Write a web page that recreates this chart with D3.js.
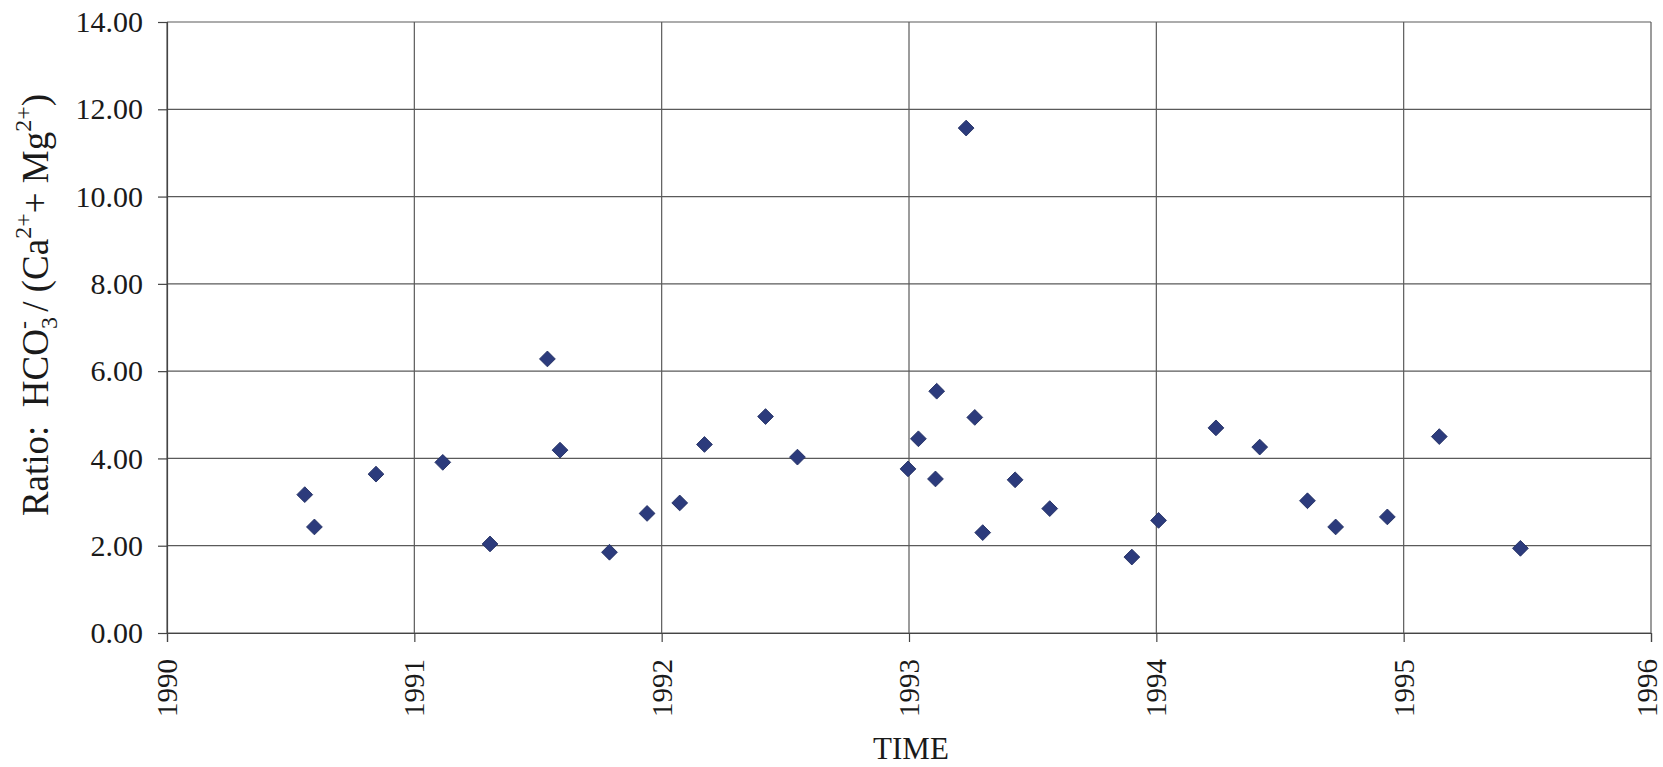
<!DOCTYPE html>
<html>
<head>
<meta charset="utf-8">
<script src="https://cdn.jsdelivr.net/npm/d3@7"></script>
<style>
  body { margin: 0; background: #fff; }
  text { font-family: "Liberation Serif", "Times New Roman", serif; fill: #1a1a1a; }
</style>
</head>
<body>
<div id="chart"></div>
<script>
// sample dates (decimal years) and HCO3 / (Ca + Mg) ratios
var sampleTimes = [1990.557, 1990.596, 1990.845, 1991.115, 1991.306, 1991.538, 1991.589, 1991.789,
    1991.941, 1992.073, 1992.173, 1992.420, 1992.549, 1992.996, 1993.038, 1993.107, 1993.112,
    1993.231, 1993.266, 1993.298, 1993.429, 1993.569, 1993.901, 1994.009, 1994.241, 1994.418,
    1994.611, 1994.725, 1994.934, 1995.144, 1995.472];
var ratioValues = [3.17, 2.43, 3.64, 3.91, 2.04, 6.28, 4.19, 1.85,
    2.74, 2.98, 4.32, 4.96, 4.03, 3.76, 4.45, 3.53, 5.54,
    11.57, 4.94, 2.30, 3.51, 2.85, 1.74, 2.58, 4.70, 4.26,
    3.03, 2.43, 2.66, 4.50, 1.94];
var yearTicks = [1990, 1991, 1992, 1993, 1994, 1995, 1996];
var ratioTicks = [0, 2, 4, 6, 8, 10, 12, 14];

var vis = {};
vis.margin = { top: 22, right: 12, bottom: 134, left: 167 };
vis.width = 1663 - vis.margin.left - vis.margin.right;
vis.height = 767 - vis.margin.top - vis.margin.bottom;

vis.svg = d3.select("#chart").append("svg")
    .attr("width", 1663)
    .attr("height", 767)
    .append("g")
    .attr("transform", "translate(" + vis.margin.left + "," + vis.margin.top + ")");

// scales
vis.x = d3.scaleLinear().domain([1990, 1996]).range([0, vis.width]);
vis.y = d3.scaleLinear().domain([0, 14]).range([vis.height, 0]);

// gridlines
vis.svg.append("g").selectAll("line.hgrid")
    .data(ratioTicks)
    .enter().append("line")
    .attr("class", "hgrid")
    .attr("x1", 0).attr("x2", vis.width)
    .attr("y1", function(d){ return vis.y(d); })
    .attr("y2", function(d){ return vis.y(d); })
    .attr("stroke", "#5a5a5a").attr("stroke-width", 1.2);

vis.svg.append("g").selectAll("line.vgrid")
    .data(yearTicks)
    .enter().append("line")
    .attr("class", "vgrid")
    .attr("x1", function(d){ return vis.x(d); })
    .attr("x2", function(d){ return vis.x(d); })
    .attr("y1", 0).attr("y2", vis.height)
    .attr("stroke", "#5a5a5a").attr("stroke-width", 1.2);

// axes
vis.yAxis = d3.axisLeft(vis.y)
    .tickValues(ratioTicks)
    .tickSize(9)
    .tickPadding(15)
    .tickFormat(d3.format(".2f"));

vis.gY = vis.svg.append("g").attr("class", "y-axis").call(vis.yAxis);

vis.xAxis = d3.axisBottom(vis.x)
    .tickValues(yearTicks)
    .tickSize(9)
    .tickFormat(d3.format("d"));

vis.gX = vis.svg.append("g")
    .attr("class", "x-axis")
    .attr("transform", "translate(0," + vis.height + ")")
    .call(vis.xAxis);

vis.svg.selectAll(".domain").attr("stroke", "#444").attr("stroke-width", 1.2);
vis.svg.selectAll(".tick line").attr("stroke", "#444").attr("stroke-width", 1.2);
vis.svg.selectAll(".tick text")
    .attr("font-family", "'Liberation Serif', serif")
    .attr("font-size", 30)
    .attr("fill", "#1a1a1a");

// rotated year labels; the last one sits at the page edge so nudge it in a little
vis.gX.selectAll(".tick text")
    .attr("font-size", 29)
    .attr("transform", "rotate(-90)")
    .attr("text-anchor", "end")
    .attr("x", -26)
    .attr("y", 0)
    .attr("dy", function(d){ return d === 1996 ? "0.2em" : "0.33em"; });

// points
vis.svg.append("g").selectAll("path.pt")
    .data(sampleTimes)
    .enter().append("path")
    .attr("class", "pt")
    .attr("d", d3.symbol().type(d3.symbolSquare).size(125))
    .attr("transform", function(d, i){
        return "translate(" + vis.x(d) + "," + vis.y(ratioValues[i]) + ") rotate(45)";
    })
    .attr("fill", "#2c3b7c")
    .attr("stroke", "#1e2a5e")
    .attr("stroke-width", 0.8);

// axis titles
vis.svg.append("text")
    .attr("x", vis.width / 2 + 2)
    .attr("y", vis.height + 126)
    .attr("text-anchor", "middle")
    .attr("font-size", 31)
    .text("TIME");

var yTitle = vis.svg.append("text")
    .attr("transform", "translate(" + (48 - vis.margin.left) + "," + (305 - vis.margin.top) + ") rotate(-90)")
    .attr("text-anchor", "middle")
    .attr("font-size", 37);

yTitle.append("tspan").text("Ratio:\u00a0\u00a0HCO");
yTitle.append("tspan").attr("font-size", 24).attr("dy", 9).text("3");
yTitle.append("tspan").attr("font-size", 24).attr("dx", -12).attr("dy", -26).text("-");
yTitle.append("tspan").attr("dy", 17).text(" / (Ca");
yTitle.append("tspan").attr("font-size", 24).attr("dy", -17).text("2+");
yTitle.append("tspan").attr("dy", 17).text("+ Mg");
yTitle.append("tspan").attr("font-size", 24).attr("dy", -17).text("2+");
yTitle.append("tspan").attr("dy", 17).text(")");
</script>
</body>
</html>
